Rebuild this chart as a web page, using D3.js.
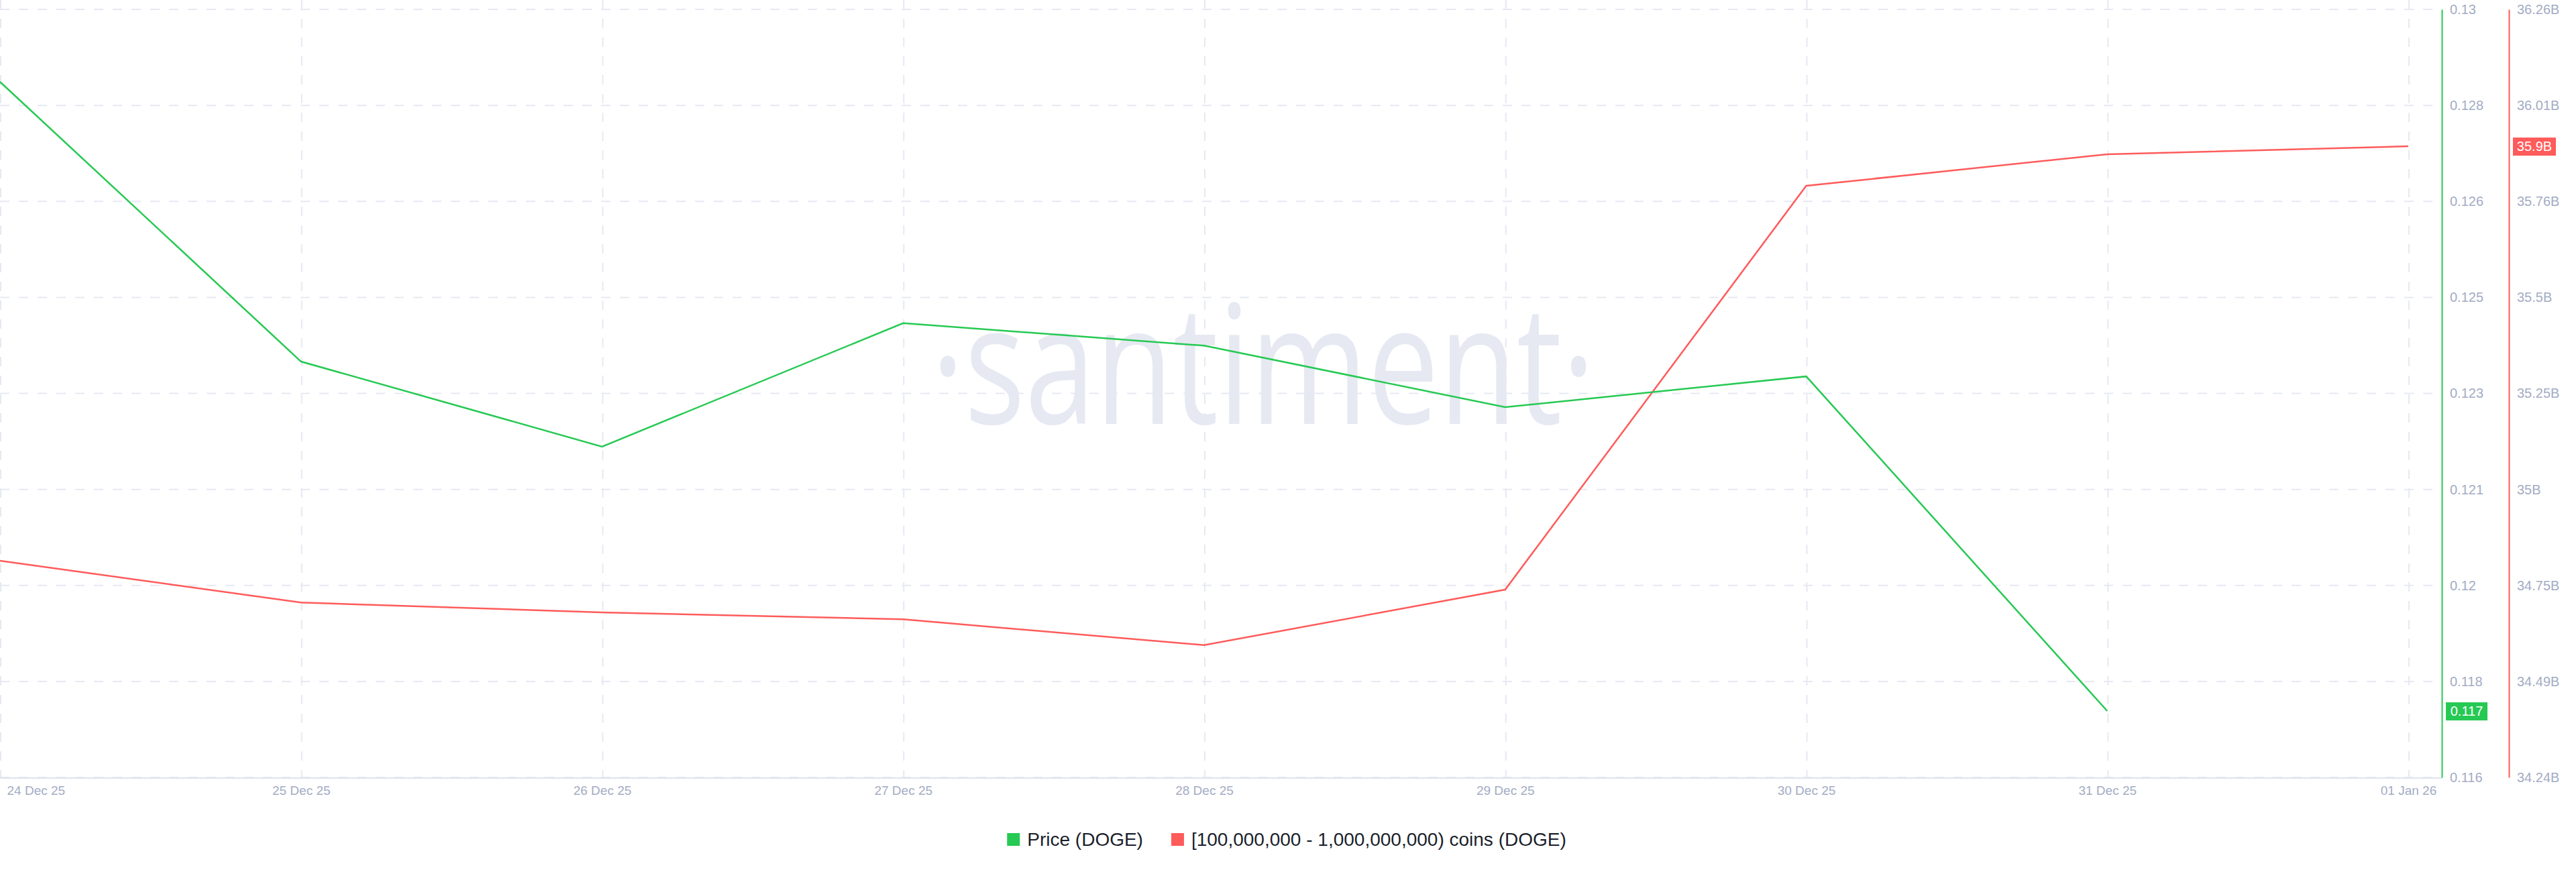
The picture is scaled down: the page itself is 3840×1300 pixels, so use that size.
<!DOCTYPE html>
<html>
<head>
<meta charset="utf-8">
<script src="https://cdn.jsdelivr.net/npm/d3@7"></script>
<style>
  body { margin: 0; background: #fff; }
  text { font-family: "Liberation Sans", Arial, sans-serif; }
</style>
</head>
<body>
<div id="chart"></div>
<script>
// data
var dates = ["24 Dec 25", "25 Dec 25", "26 Dec 25", "27 Dec 25", "28 Dec 25", "29 Dec 25", "30 Dec 25", "31 Dec 25", "01 Jan 26"];
var price = [0.12868, 0.12358, 0.12203, 0.12428, 0.12387, 0.12275, 0.12331, 0.11721];
var holders = [34.81, 34.70, 34.674, 34.656, 34.588, 34.734, 35.796, 35.879, 35.90]; // billions of coins

var priceTicks = [0.116, 0.11775, 0.1195, 0.12125, 0.123, 0.12475, 0.1265, 0.12825, 0.13];
var priceTickLabels = ["0.116", "0.118", "0.12", "0.121", "0.123", "0.125", "0.126", "0.128", "0.13"];
var holderTicks = [34.24, 34.4925, 34.745, 34.9975, 35.25, 35.5025, 35.755, 36.0075, 36.26];
var holderTickLabels = ["34.24B", "34.49B", "34.75B", "35B", "35.25B", "35.5B", "35.76B", "36.01B", "36.26B"];

var seriesNames = ["Price (DOGE)", "[100,000,000 - 1,000,000,000) coins (DOGE)"];
var lastLabels = ["0.117", "35.9B"];

var green = "#26c953";
var red = "#ff5b5b";
var tickColor = "#a3acc4";
var gridColor = "#e6e9f2";

var svgWidth = 3840;
var svgHeight = 1300;
var plotTop = 14, plotBottom = 1159;

var svg = d3.select("#chart")
  .append("svg")
  .attr("width", svgWidth)
  .attr("height", svgHeight);

var x = d3.scalePoint()
  .domain(dates)
  .range([0, 3590]);

var yPrice = d3.scaleLinear()
  .domain([0.116, 0.13])
  .range([plotBottom, plotTop]);

var yHold = d3.scaleLinear()
  .domain([34.24, 36.26])
  .range([plotBottom, plotTop]);

// watermark
svg.append("text")
  .attr("x", 1388)
  .attr("y", 632)
  .attr("textLength", 990)
  .attr("lengthAdjust", "spacingAndGlyphs")
  .style("font-family", "'Open Sans', sans-serif")
  .style("font-size", "248px")
  .attr("fill", "#e6e9f2")
  .text("\u00B7santiment\u00B7");

// grid
svg.append("g").selectAll("line")
  .data(priceTicks)
  .enter()
  .append("line")
  .attr("x1", 0)
  .attr("x2", 3626)
  .attr("y1", d => yPrice(d))
  .attr("y2", d => yPrice(d))
  .attr("stroke", gridColor)
  .attr("stroke-width", 2)
  .attr("stroke-dasharray", "14,14");

svg.append("g").selectAll("line")
  .data(dates)
  .enter()
  .append("line")
  .attr("x1", d => x(d) + 1)
  .attr("x2", d => x(d) + 1)
  .attr("y1", 0)
  .attr("y2", plotBottom)
  .attr("stroke", gridColor)
  .attr("stroke-width", 2)
  .attr("stroke-dasharray", "14,14");

// bottom axis
svg.append("line")
  .attr("x1", 0).attr("x2", 3640)
  .attr("y1", plotBottom + 1).attr("y2", plotBottom + 1)
  .attr("stroke", "#e0e4ee")
  .attr("stroke-width", 2);

var xAxis = svg.append("g")
  .attr("transform", `translate(0, ${plotBottom})`)
  .call(d3.axisBottom(x).tickSize(0).tickPadding(13));
xAxis.select(".domain").remove();
xAxis.selectAll("text")
  .attr("fill", tickColor)
  .style("font-size", "19px");
xAxis.select(".tick text")
  .attr("text-anchor", "start")
  .attr("x", 10);

// right axes
var priceAxis = svg.append("g")
  .attr("transform", "translate(3640, 0)")
  .call(d3.axisRight(yPrice)
    .tickValues(priceTicks)
    .tickFormat((d, i) => priceTickLabels[i])
    .tickSize(0).tickSizeOuter(0).tickPadding(12));
priceAxis.select(".domain").attr("stroke", green).attr("stroke-width", 2);
priceAxis.selectAll("text").attr("fill", tickColor).style("font-size", "20px");

var holdAxis = svg.append("g")
  .attr("transform", "translate(3740, 0)")
  .call(d3.axisRight(yHold)
    .tickValues(holderTicks)
    .tickFormat((d, i) => holderTickLabels[i])
    .tickSize(0).tickSizeOuter(0).tickPadding(12));
holdAxis.select(".domain").attr("stroke", red).attr("stroke-width", 2);
holdAxis.selectAll("text").attr("fill", tickColor).style("font-size", "20px");

// lines
var priceLine = d3.line()
  .x((d, i) => x(dates[i]))
  .y(d => yPrice(d));

var holdLine = d3.line()
  .x((d, i) => x(dates[i]))
  .y(d => yHold(d));

svg.append("path")
  .datum(holders)
  .attr("d", holdLine)
  .attr("fill", "none")
  .attr("stroke", red)
  .attr("stroke-width", 2.5);

svg.append("path")
  .datum(price)
  .attr("d", priceLine)
  .attr("fill", "none")
  .attr("stroke", green)
  .attr("stroke-width", 2.5);

// last value badges
function badge(x0, yc, w, color, label) {
  svg.append("rect")
    .attr("x", x0).attr("y", yc - 13)
    .attr("width", w).attr("height", 27)
    .attr("fill", color);
  svg.append("text")
    .attr("x", x0 + w / 2).attr("y", yc)
    .attr("dy", "0.36em")
    .attr("text-anchor", "middle")
    .attr("fill", "#fff")
    .style("font-size", "20px")
    .text(label);
}
badge(3646, yPrice(price[price.length - 1]), 62, green, lastLabels[0]);
badge(3746, yHold(holders[holders.length - 1]), 64, red, lastLabels[1]);

// legend
var legend = svg.append("g");
var cx = 0;
[green, red].forEach(function(c, i) {
  legend.append("rect")
    .attr("x", cx).attr("y", -9)
    .attr("width", 19).attr("height", 19)
    .attr("fill", c);
  var t = legend.append("text")
    .attr("x", cx + 30).attr("y", 0)
    .attr("dy", "0.35em")
    .attr("fill", "#1b1f2c")
    .style("font-size", "28px")
    .text(seriesNames[i]);
  cx += 30 + t.node().getComputedTextLength() + 42;
});
var legendW = cx - 42;
legend.attr("transform", `translate(${1918 - legendW / 2}, 1251)`);
</script>
</body>
</html>
